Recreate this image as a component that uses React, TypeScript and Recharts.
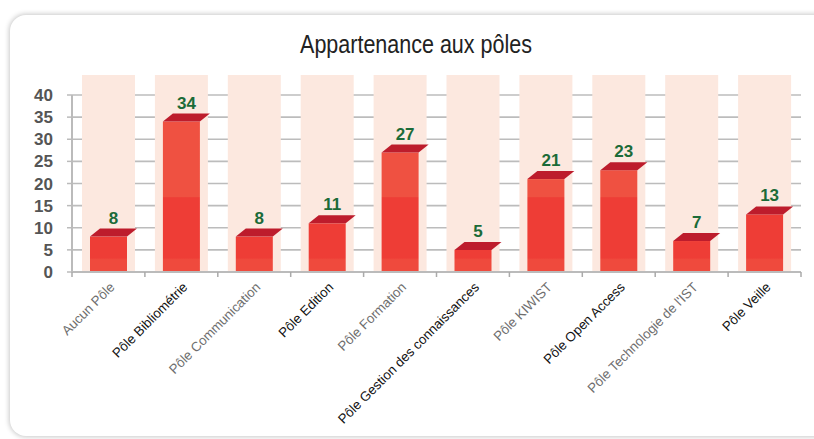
import React from 'react';
import { BarChart, Bar, XAxis, YAxis, CartesianGrid, LabelList } from 'recharts';

const categories = [
  'Aucun Pôle',
  'Pôle Bibliométrie',
  'Pôle Communication',
  'Pôle Edition',
  'Pôle Formation',
  'Pôle Gestion des connaissances',
  'Pôle KIWIST',
  'Pôle Open Access',
  "Pôle Technologie de l'IST",
  'Pôle Veille',
];
const values = [8, 34, 8, 11, 27, 5, 21, 23, 7, 13];
const yTicks = [0, 5, 10, 15, 20, 25, 30, 35, 40];
const title = 'Appartenance aux pôles';

const data = categories.map((name, i) => ({ name, value: values[i], idx: i }));

const SANS = '"Liberation Sans", Arial, sans-serif';

const Bar3D = (props: any) => {
  const { x, y, width, height } = props;
  const dx = 10;
  const dy = 8;
  return (
    <g>
      <rect x={x} y={y} width={width} height={height} fill="url(#barGrad)" />
      <polygon
        points={`${x},${y} ${x + width},${y} ${x + width + dx},${y - dy} ${x + dx},${y - dy}`}
        fill="#bd1c2c"
      />
    </g>
  );
};

const BgShape = (props: any) => {
  const { x, y, width, height } = props;
  return <rect x={x - 8} y={y - 20} width={width + 16} height={height + 20} fill="#fce8df" />;
};

const ValueLabel = (props: any) => {
  const { x, y, width, value } = props;
  return (
    <text
      x={x + width / 2 + 5}
      y={y - 13}
      textAnchor="middle"
      fill="#1b6b38"
      fontFamily={SANS}
      fontWeight="bold"
      fontSize={17}
    >
      {value}
    </text>
  );
};

const band = (801 - 72) / categories.length;

const XTick = (props: any) => {
  const { x, y, payload, index } = props;
  const dark = index % 2 === 1;
  const isLast = index === categories.length - 1;
  const ax = x + 7;
  const ay = y + 8;
  return (
    <g>
      <line x1={x - band / 2} y1={y - 8} x2={x - band / 2} y2={y - 3} stroke="#aaa" strokeWidth={1.5} />
      {isLast && (
        <line x1={x + band / 2} y1={y - 8} x2={x + band / 2} y2={y - 3} stroke="#aaa" strokeWidth={1.5} />
      )}
      <text
        x={ax}
        y={ay}
        textAnchor="end"
        transform={`rotate(-45, ${ax}, ${ay})`}
        fill={dark ? '#111' : '#6e6e6e'}
        fontFamily={SANS}
        fontSize={13.3}
      >
        {payload.value}
      </text>
    </g>
  );
};

export default function App() {
  return (
    <div style={{ position: 'absolute', left: 0, top: 0, width: 814, height: 439, background: '#fff', overflow: 'hidden' }}>
      <div
        style={{
          position: 'absolute',
          left: 10,
          top: 15,
          width: 840,
          height: 421,
          borderRadius: 16,
          background: '#fff',
          boxShadow: '0 0 5px 1px rgba(0,0,0,0.22)',
        }}
      />
      <div
        style={{
          position: 'absolute',
          left: 0,
          top: 30,
          width: 832,
          textAlign: 'center',
          fontFamily: SANS,
          fontSize: 25,
          color: '#222',
          transform: 'scaleX(0.86)',
        }}
      >
        {title}
      </div>
      <div style={{ position: 'absolute', left: 0, top: 0 }}>
        <BarChart width={814} height={439} data={data} margin={{ top: 95, right: 13, left: 0, bottom: 0 }} barCategoryGap={0}>
          <defs>
            <linearGradient id="barGrad" gradientUnits="userSpaceOnUse" x1="0" y1="95" x2="0" y2="272">
              <stop offset="0" stopColor="#ef5141" />
              <stop offset="0.575" stopColor="#ef5141" />
              <stop offset="0.58" stopColor="#ee3d36" />
              <stop offset="0.92" stopColor="#ee3d36" />
              <stop offset="0.93" stopColor="#ef4a3d" />
              <stop offset="1" stopColor="#ef4a3d" />
            </linearGradient>
          </defs>
          <CartesianGrid vertical={false} stroke="#bcbcbc" strokeWidth={1.6} />
          <XAxis
            dataKey="name"
            interval={0}
            tickLine={false}
            axisLine={{ stroke: '#bbb', strokeWidth: 2 }}
            tick={<XTick />}
            height={167}
          />
          <YAxis
            domain={[0, 40]}
            ticks={yTicks}
            interval={0}
            width={72}
            tickSize={5}
            tickMargin={14}
            tickLine={{ stroke: '#bbb', strokeWidth: 1.5 }}
            axisLine={{ stroke: '#bbb', strokeWidth: 2 }}
            tick={{ fill: '#555', fontFamily: SANS, fontWeight: 'bold', fontSize: 17 }}
          />
          <YAxis
            yAxisId="right"
            orientation="right"
            domain={[0, 40]}
            width={0}
            tick={false}
            tickLine={false}
            axisLine={{ stroke: '#bbb', strokeWidth: 1.5 }}
          />
          <Bar dataKey="value" barSize={37} shape={<Bar3D />} background={<BgShape />} isAnimationActive={false}>
            <LabelList dataKey="value" content={<ValueLabel />} />
          </Bar>
        </BarChart>
      </div>
    </div>
  );
}
